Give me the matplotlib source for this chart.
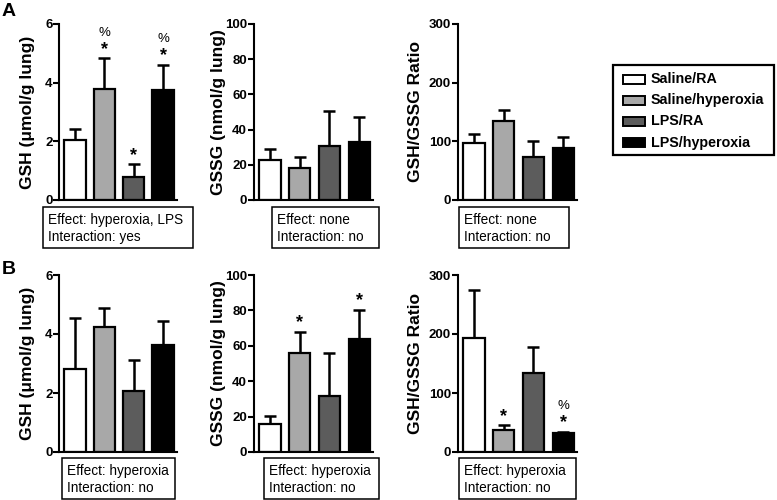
import numpy as np
import matplotlib
matplotlib.use("Agg")
import matplotlib.pyplot as plt
from matplotlib.patches import Rectangle
from matplotlib.transforms import Affine2D

plt.rcParams['font.family'] = ['Liberation Sans', 'DejaVu Sans']

# ---------------- data ----------------
groups = ["Saline/RA", "Saline/hyperoxia", "LPS/RA", "LPS/hyperoxia"]
colors = ["#ffffff", "#a8a8a8", "#5c5c5c", "#000000"]

# Panel A
a_gsh_mean = [2.05, 3.77, 0.80, 3.75]
a_gsh_err = [0.36, 1.06, 0.42, 0.85]
a_gssg_mean = [22.5, 18.4, 30.7, 33.1]
a_gssg_err = [6.4, 6.0, 20.1, 14.2]
a_ratio_mean = [98, 134, 74, 88]
a_ratio_err = [15, 20, 27, 20]

# Panel B
b_gsh_mean = [2.80, 4.25, 2.07, 3.62]
b_gsh_err = [1.75, 0.64, 1.04, 0.82]
b_gssg_mean = [16.0, 56.2, 31.5, 63.6]
b_gssg_err = [4.4, 11.7, 24.5, 16.6]
b_ratio_mean = [192.5, 38, 134, 33]
b_ratio_err = [81.5, 7, 44, 1.5]

ylabels = ["GSH (\u03bcmol/g lung)", "GSSG (nmol/g lung)", "GSH/GSSG Ratio"]
ylims = [6, 100, 300]
yticks = [[0, 2, 4, 6], [0, 20, 40, 60, 80, 100], [0, 100, 200, 300]]

# significance marks per bar: (star, percent)
a_marks = [[("", ""), ("*", "%"), ("*", ""), ("*", "%")],
           [("", "")] * 4,
           [("", "")] * 4]
b_marks = [[("", "")] * 4,
           [("", ""), ("*", ""), ("", ""), ("*", "")],
           [("", ""), ("*", ""), ("", ""), ("*", "%")]]

a_box = [("Effect: hyperoxia, LPS", "Interaction: yes"),
         ("Effect: none", "Interaction: no"),
         ("Effect: none", "Interaction: no")]
b_box = [("Effect: hyperoxia", "Interaction: no"),
         ("Effect: hyperoxia", "Interaction: no"),
         ("Effect: hyperoxia", "Interaction: no")]

# ---------------- layout ----------------
W, H = 777, 500
fig = plt.figure(figsize=(W / 100, H / 100), dpi=100)
pix = Affine2D().scale(1 / W, -1 / H).translate(0, 1) + fig.transFigure

col_x = [(59.5, 176.5), (254, 373), (458, 577)]
row_y = [(24, 200), (275, 452)]
label_x = [28, 218, 416]
box_x = [[(43, 193), (272, 379), (459, 569)],
         [(62, 175), (264, 379), (459, 576)]]
box_top = [207, 458]

rows = [
    ([a_gsh_mean, a_gssg_mean, a_ratio_mean], [a_gsh_err, a_gssg_err, a_ratio_err], a_marks, a_box),
    ([b_gsh_mean, b_gssg_mean, b_ratio_mean], [b_gsh_err, b_gssg_err, b_ratio_err], b_marks, b_box),
]

x = np.arange(4)
for r, (means, errs, marks, boxes) in enumerate(rows):
    yt, yb = row_y[r]
    for c in range(3):
        x0, x1 = col_x[c]
        ax = fig.add_axes([x0 / W, 1 - yb / H, (x1 - x0) / W, (yb - yt) / H])
        m = np.array(means[c]); e = np.array(errs[c])
        ax.bar(x, m, width=0.72, color=colors, edgecolor="black", linewidth=1.6, zorder=2)
        ax.errorbar(x, m, yerr=[np.zeros(4), e], fmt="none", ecolor="black",
                    elinewidth=1.8, capsize=4.5, capthick=1.8, zorder=1)
        ax.set_xlim(-0.53, 3.46)
        ax.set_ylim(0, ylims[c])
        ax.set_yticks(yticks[c])
        ax.set_xticks([])
        for s in ["top", "right"]:
            ax.spines[s].set_visible(False)
        for s in ["left", "bottom"]:
            ax.spines[s].set_linewidth(1.5)
        ax.tick_params(axis="y", width=1.5, length=4, pad=1, labelsize=9.5)
        for lab in ax.get_yticklabels():
            lab.set_fontweight("bold")
        ax.patch.set_alpha(0)
        # significance marks
        for i, (st, pc) in enumerate(marks[c]):
            top = m[i] + e[i]
            if st:
                ax.annotate(st, (x[i], top), xytext=(0, 6.5), textcoords="offset points",
                            ha="center", va="center", fontsize=13, fontweight="bold")
            if pc:
                ax.annotate(pc, (x[i], top), xytext=(0, 18.5), textcoords="offset points",
                            ha="center", va="center", fontsize=9.5)
        # y label
        fig.text(label_x[c], (yt + yb) / 2, ylabels[c], transform=pix, rotation=90,
                 ha="center", va="center", fontsize=12.5, fontweight="bold")
        # statistics box
        bx0, bx1 = box_x[r][c]
        bt = box_top[r]
        fig.patches.append(Rectangle((bx0, bt), bx1 - bx0, 41, transform=pix,
                                     fill=False, edgecolor="black", linewidth=1.1))
        fig.text(bx0 + 5, bt + 13, boxes[c][0], transform=pix, ha="left", va="center", fontsize=9.8)
        fig.text(bx0 + 5, bt + 30, boxes[c][1], transform=pix, ha="left", va="center", fontsize=9.8)

# panel letters
fig.text(9, 11, "A", transform=pix, ha="center", va="center", fontsize=14, fontweight="bold")
fig.text(9, 270, "B", transform=pix, ha="center", va="center", fontsize=14, fontweight="bold")

# legend
fig.patches.append(Rectangle((613, 65), 161, 90, transform=pix, fill=False,
                             edgecolor="black", linewidth=1.6))
for i, (g, col) in enumerate(zip(groups, colors)):
    yc = 79 + i * 21.2
    fig.patches.append(Rectangle((623, yc - 4.5), 22, 9, transform=pix, facecolor=col,
                                 edgecolor="black", linewidth=1.4))
    fig.text(651, yc, g, transform=pix, ha="left", va="center", fontsize=10.3, fontweight="bold")

fig.savefig("out.png", dpi=100)
